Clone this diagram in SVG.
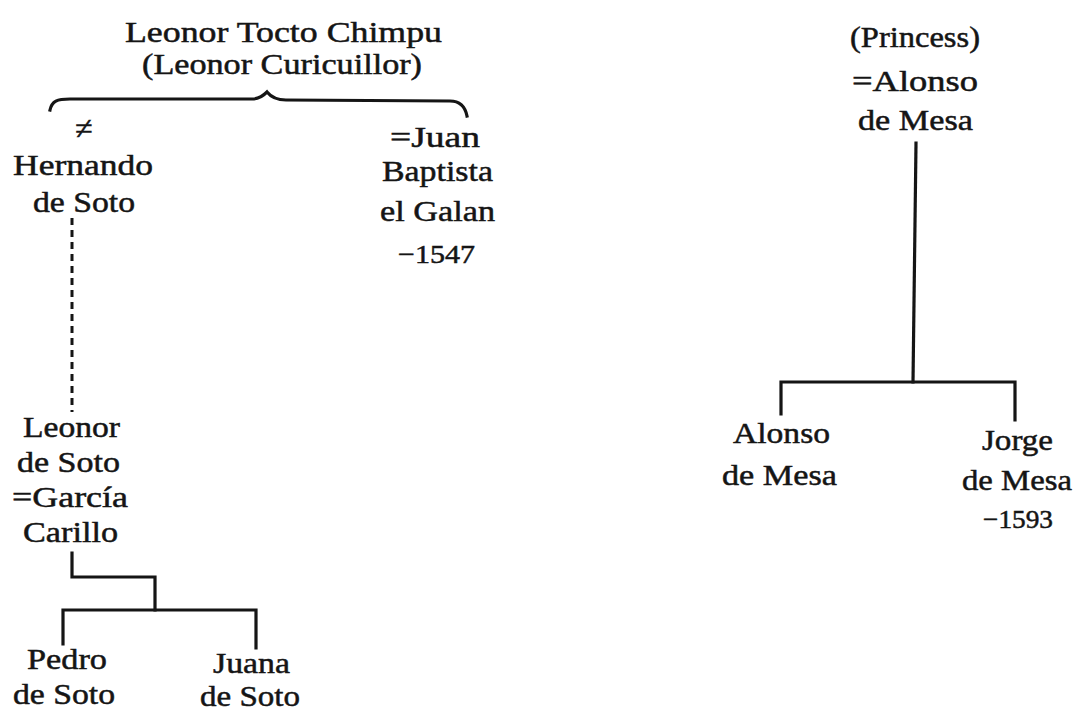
<svg xmlns="http://www.w3.org/2000/svg" width="1076" height="710" viewBox="0 0 1076 710">
<style>
text{font-family:"Liberation Serif","Times New Roman",serif;font-size:30px;fill:#151515;stroke:#151515;stroke-width:0.5;text-anchor:middle}
.sm{font-size:26px}
.ne{font-size:32px}
.ln{fill:none;stroke:#151515;stroke-width:3.2;stroke-linecap:square;stroke-linejoin:miter}
.dash{fill:none;stroke:#151515;stroke-width:3;stroke-dasharray:7 5}
</style>
<rect width="1076" height="710" fill="#ffffff"/>
<g id="connectors">
<path class="ln" d="M50,110 C52,101 57,99 70,99 L252,99 C259,99 263,96 267,92 C271,97 276,100 286,100 L450,101 C460,101 465,106 467,116"/>
<path class="dash" d="M72,218 V412"/>
<path class="ln" d="M72,553 V577 H155 V610"/>
<path class="ln" d="M63,644 V610 H256 V648"/>
<path class="ln" d="M916,143 L913,382"/>
<path class="ln" d="M781,414 V382 H1015 V420"/>
</g>
<g id="leonor-tocto">
<text x="283.5" y="42" textLength="317" lengthAdjust="spacingAndGlyphs">Leonor Tocto Chimpu</text>
<text x="282" y="74" textLength="280" lengthAdjust="spacingAndGlyphs">(Leonor Curicuillor)</text>
</g>
<g id="hernando">
<text x="84" y="139" class="ne">≠</text>
<text x="83" y="175" textLength="140" lengthAdjust="spacingAndGlyphs">Hernando</text>
<text x="84" y="212" textLength="102" lengthAdjust="spacingAndGlyphs">de Soto</text>
</g>
<g id="juan">
<text x="435" y="147" textLength="90" lengthAdjust="spacingAndGlyphs">=Juan</text>
<text x="437.5" y="181" textLength="111" lengthAdjust="spacingAndGlyphs">Baptista</text>
<text x="437.5" y="221" textLength="115" lengthAdjust="spacingAndGlyphs">el Galan</text>
<text x="436.5" y="263" class="sm" textLength="77" lengthAdjust="spacingAndGlyphs">−1547</text>
</g>
<g id="leonor-de-soto">
<text x="71.5" y="437" textLength="97" lengthAdjust="spacingAndGlyphs">Leonor</text>
<text x="68.5" y="472" textLength="103" lengthAdjust="spacingAndGlyphs">de Soto</text>
<text x="70" y="507" textLength="116" lengthAdjust="spacingAndGlyphs">=García</text>
<text x="70.5" y="542" textLength="95" lengthAdjust="spacingAndGlyphs">Carillo</text>
</g>
<g id="pedro">
<text x="67" y="669" textLength="80" lengthAdjust="spacingAndGlyphs">Pedro</text>
<text x="64" y="704" textLength="102" lengthAdjust="spacingAndGlyphs">de Soto</text>
</g>
<g id="juana">
<text x="251.5" y="673" textLength="77" lengthAdjust="spacingAndGlyphs">Juana</text>
<text x="250" y="706" textLength="100" lengthAdjust="spacingAndGlyphs">de Soto</text>
</g>
<g id="princess">
<text x="915" y="47" textLength="130" lengthAdjust="spacingAndGlyphs">(Princess)</text>
<text x="915" y="91" textLength="126" lengthAdjust="spacingAndGlyphs">=Alonso</text>
<text x="915.5" y="130" textLength="115" lengthAdjust="spacingAndGlyphs">de Mesa</text>
</g>
<g id="alonso">
<text x="781.5" y="443" textLength="97" lengthAdjust="spacingAndGlyphs">Alonso</text>
<text x="779.5" y="485" textLength="115" lengthAdjust="spacingAndGlyphs">de Mesa</text>
</g>
<g id="jorge">
<text x="1017.5" y="450" textLength="71" lengthAdjust="spacingAndGlyphs">Jorge</text>
<text x="1017" y="490" textLength="110" lengthAdjust="spacingAndGlyphs">de Mesa</text>
<text x="1018" y="528" class="sm" textLength="70" lengthAdjust="spacingAndGlyphs">−1593</text>
</g>
</svg>
